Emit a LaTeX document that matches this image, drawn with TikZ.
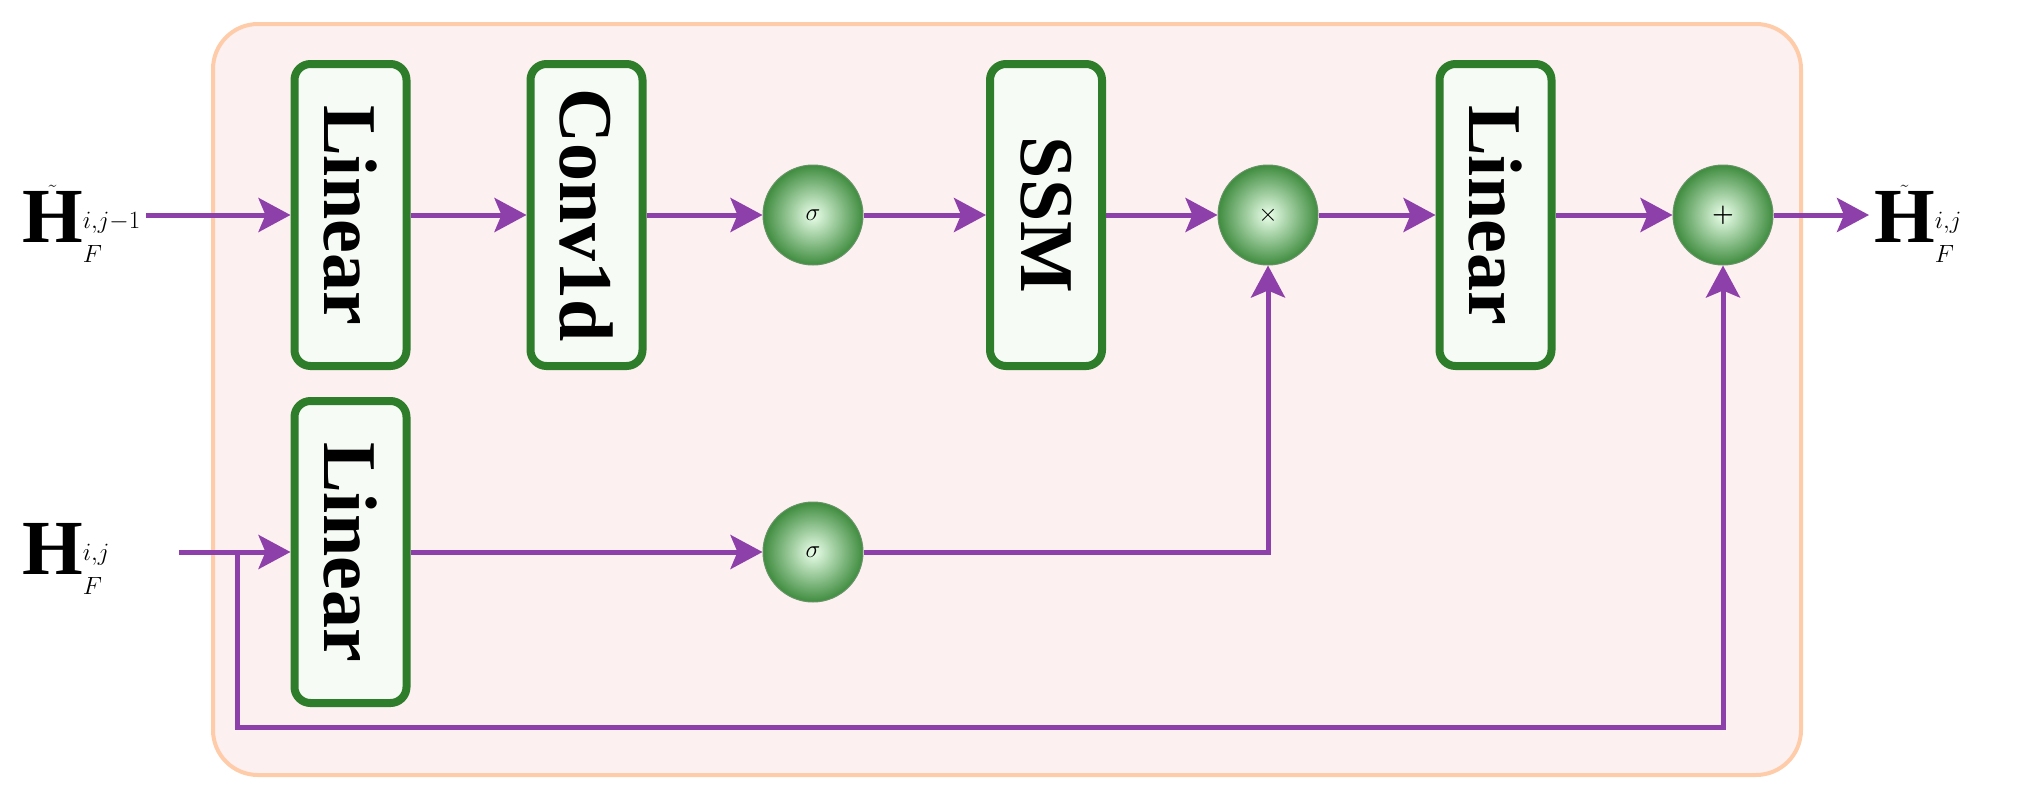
\documentclass[tikz,border=0pt]{standalone}
\usepackage{amsmath,amssymb}
\usepackage{fontspec}
\setmainfont{Liberation Serif}
\usetikzlibrary{arrows.meta,calc}
\definecolor{arr}{RGB}{142,64,170}
\definecolor{bxg}{RGB}{46,125,42}
\definecolor{bxf}{RGB}{246,251,246}
\definecolor{outf}{RGB}{253,240,240}
\definecolor{outd}{RGB}{255,204,170}
\begin{document}
\begin{tikzpicture}[x=1pt,y=-1pt,
  blk/.style={draw=bxg,line width=8pt,fill=bxf,rounded corners=16pt,minimum width=112pt,minimum height=302pt,inner sep=0pt,font=\fontsize{76}{80}\selectfont\bfseries},
  op/.style={circle,minimum size=100pt,inner sep=0pt,inner color=green!8,outer color=green!40!black!75,draw=green!30!black!60,line width=1pt,font=\fontsize{66}{70}\selectfont},
  con/.style={draw=arr,line width=5pt,-{Stealth[length=32pt,width=34pt,inset=7pt]}},
  ln/.style={draw=arr,line width=5pt},
  lab/.style={anchor=base west,inner sep=0pt,font=\fontsize{78}{80}\selectfont}]
\useasboundingbox (0,0) rectangle (2038,809);
\node[draw=outd,line width=4pt,fill=outf,rounded corners=45pt,minimum width=1588pt,minimum height=751pt,inner sep=0pt] (frame) at (1007,399.5) {};
\node[blk] (l1) at (350.5,215) {\rotatebox{-90}{Linear}};
\node[blk] (cv) at (586.5,215) {\rotatebox{-90}{Conv1d}};
\node[blk] (ssm) at (1046,215) {\rotatebox{-90}{SSM}};
\node[blk] (l3) at (1495.5,215) {\rotatebox{-90}{Linear}};
\node[blk] (l2) at (350.5,552) {\rotatebox{-90}{Linear}};
\node[op] (s1) at (813,215) {$\sigma$};
\node[op] (s2) at (813,552) {$\sigma$};
\node[op] (mul) at (1268,215) {\fontsize{90}{90}\selectfont$\times$};
\node[op] (add) at (1723,215) {\fontsize{100}{100}\selectfont$\boldsymbol{+}$};
\coordinate (in1) at (146,215);
\coordinate (in2) at (179,552);
\coordinate (br) at (237,552);
\coordinate (out) at (1869,215);
\node[lab] (t1) at (22,242) {$\tilde{\mathbf{H}}_F^{i,j-1}$};
\node[lab] (t2) at (22,574) {$\mathbf{H}_F^{i,j}$};
\node[lab] (t3) at (1874,242) {$\tilde{\mathbf{H}}_F^{i,j}$};
\draw[con] (in1) -- (l1.west);
\draw[con] (l1.east) -- (cv.west);
\draw[con] (cv.east) -- (s1.west);
\draw[con] (s1.east) -- (ssm.west);
\draw[con] (ssm.east) -- (mul.west);
\draw[con] (mul.east) -- (l3.west);
\draw[con] (l3.east) -- (add.west);
\draw[con] (add.east) -- (out);
\draw[con] (in2) -- (l2.west);
\draw[con] (l2.east) -- (s2.west);
\draw[con] (s2.east) -| (mul.south);
\draw[con] (br) |- (1723,727) -- (add.south);
\end{tikzpicture}
\end{document}
